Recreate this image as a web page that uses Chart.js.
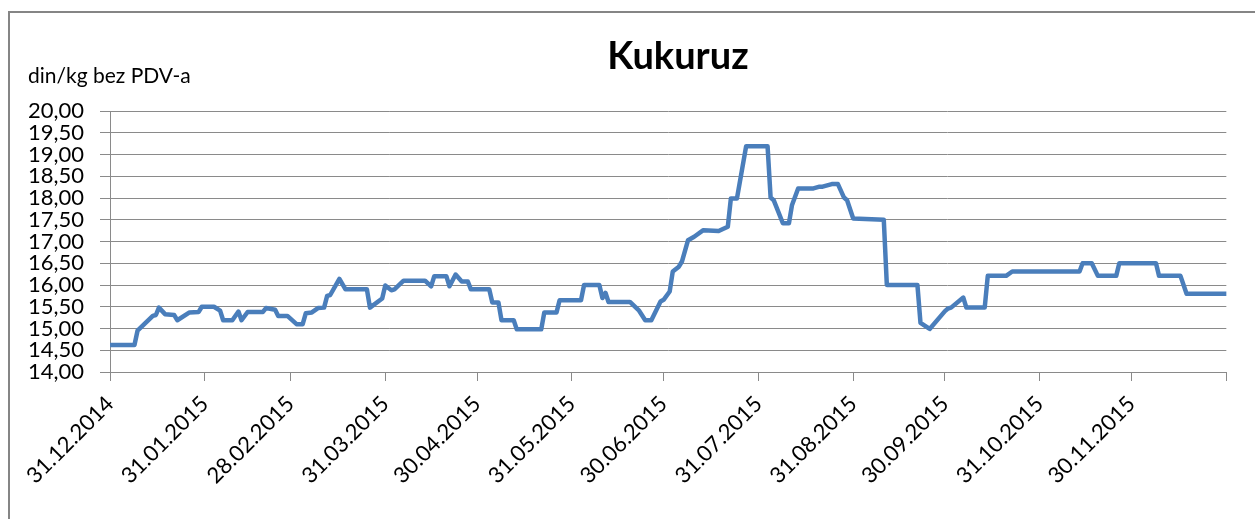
<!DOCTYPE html>
<html lang="sr">
<head>
<meta charset="utf-8">
<title>Kukuruz</title>
<script src="https://cdn.jsdelivr.net/npm/chart.js@4"></script>
<style>
  body {
    margin: 0;
    background: #ffffff;
  }
  .chart-wrap {
    position: relative;
    width: 1255px;
    height: 519px;
    overflow: hidden;
    font-family: 'Lato', sans-serif;
    color: #000;
  }
  .chart-frame {
    position: absolute;
    left: 8px;
    top: 11px;
    width: 1400px;
    height: 700px;
    border: 2px solid #858585;
  }
  .chart-title {
    position: absolute;
    left: 678px;
    top: 35px;
    transform: translateX(-50%);
    font-size: 38px;
    line-height: 1;
    font-weight: bold;
    white-space: nowrap;
  }
  .chart-unit {
    position: absolute;
    left: 28px;
    top: 64px;
    font-size: 21px;
    line-height: 1;
    white-space: nowrap;
  }
  #kukuruz-canvas {
    position: absolute;
    left: 0;
    top: 0;
  }
</style>
</head>
<body>
<div class="chart-wrap">
  <div class="chart-frame"></div>
  <canvas id="kukuruz-canvas" width="1255" height="519"></canvas>
  <div class="chart-title">Kukuruz</div>
  <div class="chart-unit">din/kg bez PDV-a</div>
</div>
<script>
// Dani od 31.12.2014 (tačke promene cene) i cene u din/kg
const dayOffsets = [
  0, 8, 9, 14, 15, 16, 18, 21, 22, 26, 29, 30, 34, 36, 37, 40, 42, 43, 45, 50,
  51, 54, 55, 58, 61, 63, 64, 66, 68, 70, 71, 72, 75, 77, 84, 85, 89, 90, 92, 93,
  96, 103, 105, 106, 110, 111, 113, 115, 117, 118, 124, 125, 127, 128, 132, 133, 141, 142, 146, 147,
  154, 155, 160, 161, 162, 163, 170, 173, 175, 177, 180, 181, 183, 184, 186, 187, 189, 191, 194, 199,
  202, 203, 205, 208, 215, 216, 217, 220, 222, 223, 225, 230, 232, 233, 236, 238, 240, 241, 243, 253,
  254, 264, 265, 268, 273, 274, 275, 279, 280, 286, 287, 293, 295, 317, 318, 321, 323, 329, 330, 342,
  343, 350, 352, 365
];
const prices = [
  14.62, 14.62, 14.95, 15.29, 15.31, 15.48, 15.33, 15.31, 15.19, 15.37, 15.38, 15.50, 15.50, 15.41, 15.19, 15.19, 15.39, 15.19, 15.38, 15.38,
  15.47, 15.43, 15.29, 15.29, 15.10, 15.10, 15.35, 15.37, 15.47, 15.48, 15.75, 15.77, 16.14, 15.90, 15.90, 15.48, 15.69, 15.99, 15.88, 15.90,
  16.10, 16.10, 15.97, 16.20, 16.20, 15.97, 16.24, 16.08, 16.08, 15.90, 15.90, 15.60, 15.60, 15.19, 15.19, 14.98, 14.98, 15.37, 15.37, 15.65,
  15.65, 16.00, 16.00, 15.70, 15.82, 15.61, 15.61, 15.41, 15.19, 15.19, 15.62, 15.66, 15.85, 16.31, 16.42, 16.54, 17.03, 17.11, 17.26, 17.24,
  17.34, 17.99, 17.99, 19.19, 19.19, 18.01, 17.95, 17.42, 17.42, 17.84, 18.22, 18.22, 18.26, 18.26, 18.32, 18.32, 18.01, 17.95, 17.53, 17.50,
  16.00, 16.00, 15.13, 14.99, 15.40, 15.46, 15.48, 15.71, 15.48, 15.48, 16.21, 16.21, 16.31, 16.31, 16.50, 16.50, 16.21, 16.21, 16.50, 16.50,
  16.21, 16.21, 15.80, 15.80
];

// Oznake na x osi (kraj meseca)
const tickDays = [0, 31, 59, 90, 120, 151, 181, 212, 243, 273, 304, 334, 365];
const tickLabels = [
  '31.12.2014', '31.01.2015', '28.02.2015', '31.03.2015', '30.04.2015', '31.05.2015',
  '30.06.2015', '31.07.2015', '31.08.2015', '30.09.2015', '31.10.2015', '30.11.2015', ''
];

const gridColor = '#8a8a8a';
const lineColor = '#4a7ebb';

Chart.defaults.font.family = "'Lato', sans-serif";
Chart.defaults.color = '#000';

const canvas = document.getElementById('kukuruz-canvas');

new Chart(canvas, {
  type: 'line',
  data: {
    datasets: [{
      label: 'Kukuruz',
      data: dayOffsets.map((d, i) => ({ x: d, y: prices[i] })),
      borderColor: lineColor,
      backgroundColor: lineColor,
      borderWidth: 4.5,
      borderJoinStyle: 'round',
      borderCapStyle: 'round',
      pointRadius: 0,
      tension: 0,
      fill: false
    }]
  },
  options: {
    responsive: false,
    animation: false,
    events: [],
    layout: {
      padding: { top: 111, right: 27, bottom: 0, left: 0 }
    },
    plugins: {
      legend: { display: false },
      title: { display: false },
      tooltip: { enabled: false }
    },
    scales: {
      x: {
        type: 'linear',
        min: 0,
        max: 365,
        afterBuildTicks: scale => {
          scale.ticks = tickDays.map(v => ({ value: v }));
        },
        afterFit: scale => {
          scale.height = 147;
        },
        ticks: {
          autoSkip: false,
          minRotation: 45,
          maxRotation: 45,
          padding: 10,
          font: { size: 22 },
          callback: value => tickLabels[tickDays.indexOf(value)] || ''
        },
        grid: {
          display: true,
          drawOnChartArea: false,
          drawTicks: true,
          tickLength: 9,
          color: gridColor,
          lineWidth: 1
        },
        border: { color: gridColor, width: 1 }
      },
      y: {
        min: 14,
        max: 20,
        afterFit: scale => {
          scale.width = 110;
        },
        ticks: {
          stepSize: 0.5,
          autoSkip: false,
          padding: 16,
          font: { size: 22 },
          callback: value => value.toFixed(2).replace('.', ',')
        },
        grid: {
          color: gridColor,
          lineWidth: 1,
          tickLength: 10
        },
        border: { color: gridColor, width: 1 }
      }
    }
  }
});
</script>
</body>
</html>
